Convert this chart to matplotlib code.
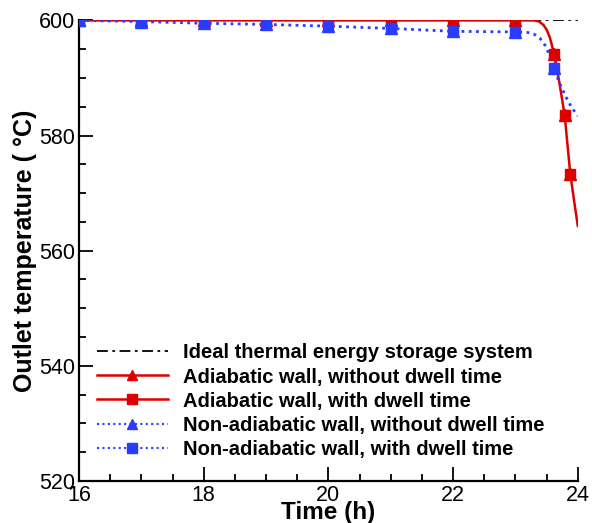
import matplotlib
matplotlib.use("Agg")
import matplotlib.pyplot as plt
from matplotlib.ticker import MultipleLocator

# ---- data ----
ideal_t = [16, 24]
ideal_T = [600, 600]

# adiabatic wall (curve + marker points)
adia_t = [16, 17, 18, 19, 20, 21, 22, 23, 23.3, 23.38, 23.45, 23.5, 23.55, 23.62, 23.7, 23.79, 23.88, 23.95, 24.0]
adia_T = [600, 600, 600, 600, 600, 600, 600, 600, 600, 599.8, 599.2, 598.4, 597.1, 594.2, 589.5, 583.5, 573.3, 568.0, 564.3]
adia_mark_t = [16, 17, 18, 19, 20, 21, 22, 23, 23.62, 23.79, 23.88]
adia_mark_T = [600, 600, 600, 600, 600, 600, 600, 600, 594.2, 583.5, 573.3]

# non-adiabatic wall
nadia_t = [16, 17, 18, 19, 20, 21, 22, 23, 23.2, 23.3, 23.4, 23.48, 23.55, 23.62, 23.7, 23.8, 23.9, 24.0]
nadia_T = [600, 599.8, 599.5, 599.3, 599.0, 598.6, 598.1, 598.0, 597.9, 597.6, 596.8, 595.6, 593.9, 591.7, 589.3, 586.9, 584.9, 583.4]
nadia_mark_t = [16, 17, 18, 19, 20, 21, 22, 23, 23.62]
nadia_mark_T = [600, 599.8, 599.5, 599.3, 599.0, 598.6, 598.1, 598.0, 591.7]

RED = "#dd0000"
BLUE = "#2a3cff"

plt.rcParams["font.family"] = ["Liberation Sans", "DejaVu Sans"]

fig = plt.figure(figsize=(5.92, 5.23), dpi=100)
ax = fig.add_axes([0.1334, 0.0803, 0.976 - 0.1334, 0.961 - 0.0803])

ax.plot(ideal_t, ideal_T, color="black", ls=(0, (6, 2.5, 1.5, 2.5)), lw=1.3,
        label="Ideal thermal energy storage system", zorder=2)

# line-only curves
ax.plot(adia_t, adia_T, color=RED, lw=1.8, zorder=3)
ax.plot(nadia_t, nadia_T, color=BLUE, lw=2.0, ls=(0, (1, 1.6)), zorder=3)

# marker series (triangles sit under the squares)
ax.plot(adia_mark_t, adia_mark_T, ls="none", marker="^", ms=8.5, color=RED, zorder=4)
ax.plot(adia_mark_t, adia_mark_T, ls="none", marker="s", ms=7.4, color=RED, zorder=5)
ax.plot(nadia_mark_t, nadia_mark_T, ls="none", marker="^", ms=8.5, color=BLUE, zorder=6)
ax.plot(nadia_mark_t, nadia_mark_T, ls="none", marker="s", ms=7.4, color=BLUE, zorder=7)

# legend proxies
ax.plot([], [], color=RED, lw=1.8, marker="^", ms=7, label="Adiabatic wall, without dwell time")
ax.plot([], [], color=RED, lw=1.8, marker="s", ms=7, label="Adiabatic wall, with dwell time")
ax.plot([], [], color=BLUE, lw=1.5, ls=(0, (1, 1.6)), marker="^", ms=7,
        label="Non-adiabatic wall, without dwell time")
ax.plot([], [], color=BLUE, lw=1.5, ls=(0, (1, 1.6)), marker="s", ms=7,
        label="Non-adiabatic wall, with dwell time")

ax.set_xlim(16, 24)
ax.set_ylim(520, 600)
ax.xaxis.set_major_locator(MultipleLocator(2))
ax.xaxis.set_minor_locator(MultipleLocator(0.5))
ax.yaxis.set_major_locator(MultipleLocator(20))
ax.yaxis.set_minor_locator(MultipleLocator(5))

for s in ["top", "right"]:
    ax.spines[s].set_visible(False)
for s in ["left", "bottom"]:
    ax.spines[s].set_linewidth(1.6)

ax.tick_params(which="both", direction="in", width=1.3, labelsize=15.5)
ax.tick_params(which="major", length=10, pad=3)
ax.tick_params(which="minor", length=5)

ax.set_xlabel("Time (h)", fontsize=17.5, fontweight="bold")
ax.xaxis.set_label_coords(0.5, -0.043)
ax.set_ylabel("Outlet temperature ( °C)", fontsize=18, fontweight="bold")
ax.yaxis.set_label_coords(-0.085, 0.5)

leg = ax.legend(loc="lower left", bbox_to_anchor=(0.008, 0.018), frameon=False,
                prop={"size": 14.5, "weight": "bold"}, handlelength=3.5,
                handletextpad=0.75, labelspacing=0.25, borderpad=0.2)

fig.savefig("out.png", dpi=100)
